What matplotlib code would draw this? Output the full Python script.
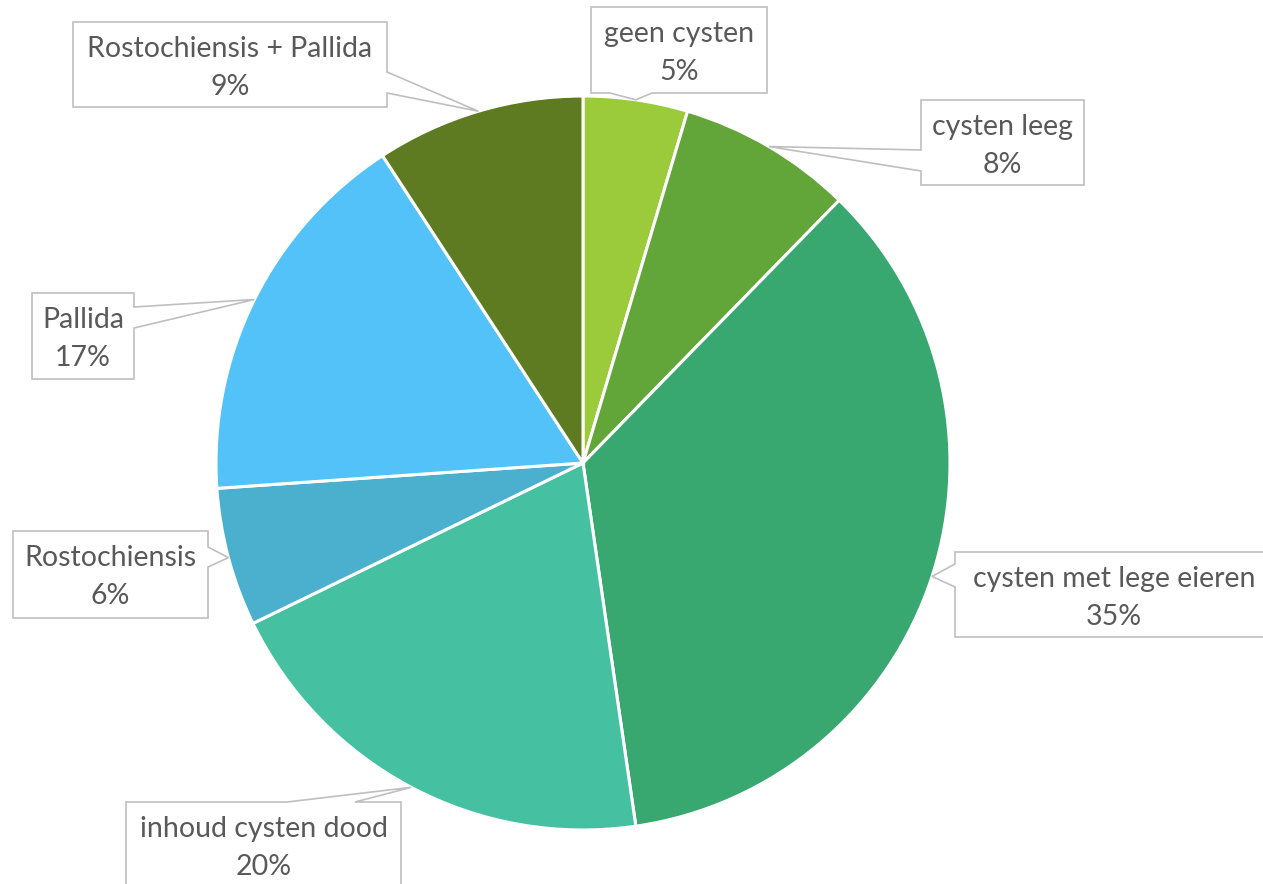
import numpy as np
import matplotlib.pyplot as plt
from matplotlib.patches import Polygon

# slices, clockwise from the top
labels = ['geen cysten', 'cysten leeg', 'cysten met lege eieren', 'inhoud cysten dood',
          'Rostochiensis', 'Pallida', 'Rostochiensis + Pallida']
values = [4.6, 7.7, 35.4, 20.1, 6.1, 16.9, 9.2]
colors = ['#9BCB3B', '#62A539', '#38A870', '#45C1A2', '#4BAFCE', '#52C2F8', '#5E7B22']

# callout layout in pixel coords (top-left origin): box x0, y0, x1, y1, pointer side, base a, base b
callouts = [
    (591, 7, 767, 93, 'bottom', 610, 652),
    (921, 100, 1084, 185, 'left', 150, 171),
    (955, 552, 1275, 637, 'left', 564, 587),
    (126, 802, 401, 900, 'top', 287, 355),
    (13, 531, 208, 618, 'right', 547, 567),
    (32, 293, 134, 379, 'right', 307, 328),
    (73, 22, 387, 107, 'right', 72, 93),
]

W, H = 1263, 884
cx, cy, r = 583, 463, 367

fig = plt.figure(figsize=(W / 100, H / 100), dpi=100)
ax = fig.add_axes([0, 0, 1, 1])

# inverted y axis: counterclock in data is clockwise on screen, -90 points up
ax.pie(values, colors=colors, center=(cx, cy), radius=r, startangle=-90, counterclock=True,
       wedgeprops=dict(edgecolor='white', linewidth=2.2), frame=True)
ax.set_xlim(0, W)
ax.set_ylim(H, 0)
ax.set_aspect('equal')
ax.axis('off')

total = sum(values)
cum = np.cumsum([0] + values[:-1])
for lab, v, c0, co in zip(labels, values, cum, callouts):
    theta = np.deg2rad(-90 + 360 * (c0 + v / 2) / total)
    tx, ty = cx + r * np.cos(theta), cy + r * np.sin(theta)
    x0, y0, x1, y1, side, a, b = co
    if side == 'right':
        pts = [(x0, y0), (x1, y0), (x1, a), (tx, ty), (x1, b), (x1, y1), (x0, y1)]
    elif side == 'left':
        pts = [(x0, y0), (x1, y0), (x1, y1), (x0, y1), (x0, b), (tx, ty), (x0, a)]
    elif side == 'top':
        pts = [(x0, y0), (a, y0), (tx, ty), (b, y0), (x1, y0), (x1, y1), (x0, y1)]
    else:
        pts = [(x0, y0), (x1, y0), (x1, y1), (b, y1), (tx, ty), (a, y1), (x0, y1)]
    ax.add_patch(Polygon(pts, closed=True, facecolor='white', edgecolor='#BFBFBF',
                         linewidth=1.2, zorder=5, clip_on=False))
    xm = (x0 + 10 + W) / 2 if x1 > W else (x0 + x1) / 2
    ax.text(xm, y0 + 27, lab, ha='center', va='center', fontsize=20.5,
            family='Lato', color='#595959', zorder=6)
    ax.text(xm, y0 + 65, f'{round(v)}%', ha='center', va='center', fontsize=20.5,
            family='Lato', color='#595959', zorder=6)

fig.savefig('out.png', dpi=100)
